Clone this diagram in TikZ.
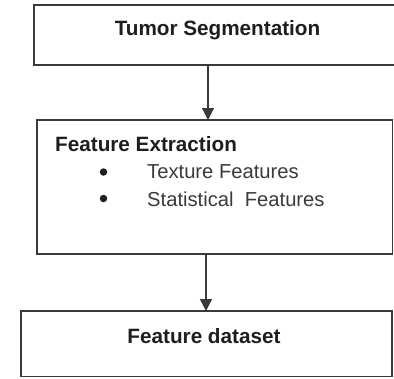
\documentclass[tikz,border=0pt]{standalone}
\usepackage{fontspec}
\setmainfont{Liberation Sans}
\usetikzlibrary{arrows.meta}
\definecolor{boxc}{HTML}{3A3A3A}
\definecolor{txtb}{HTML}{1E1E1E}
\definecolor{txtr}{HTML}{3A3A3A}
\begin{document}
\begin{tikzpicture}[x=1pt,y=-1pt,
  stepbox/.style={draw=boxc, line width=1.8pt, rectangle, inner sep=0pt, outer sep=0pt, fill=none},
  bt/.style={font=\fontsize{20.7}{24}\selectfont\bfseries, text=txtb, inner sep=0pt},
  rt/.style={font=\fontsize{20.2}{24}\selectfont, text=txtr, inner sep=0pt},
  bul/.style={circle, fill=txtb, inner sep=0pt, minimum size=7.5pt},
  conn/.style={draw=boxc, line width=1.3pt, -{Triangle[width=12pt,length=12pt]}}]
\useasboundingbox (0,0) rectangle (394,378);
\clip (0,0) rectangle (394,378);
\fill[white] (0,0) rectangle (394,378);
% boxes
\node[stepbox, minimum width=370pt, minimum height=60pt] (s1) at (219,35) {};
\node[stepbox, minimum width=355.5pt, minimum height=134pt] (s2) at (214.75,187) {};
\node[stepbox, minimum width=371pt, minimum height=65.5pt] (s3) at (206.5,343.75) {};
% texts
\node[bt, anchor=base] (t1) at (217.5,35) {Tumor Segmentation};
\node[bt, anchor=base west] (t2) at (55,151) {Feature Extraction};
\node[bul] (b1) at (103.5,172) {};
\node[rt, anchor=base west] (t3) at (147,178) {Texture Features};
\node[bul] (b2) at (103.5,198.5) {};
\node[rt, anchor=base west] (t4) at (147,206) {Statistical~~Features};
\node[bt, anchor=base] (t5) at (204,343) {Feature dataset};
% connectors
\coordinate (a1) at (208,0);
\coordinate (a2) at (206,0);
\draw[conn] (s1.south -| a1) -- (s2.north -| a1);
\draw[conn] (s2.south -| a2) -- (s3.north -| a2);
\end{tikzpicture}
\end{document}
